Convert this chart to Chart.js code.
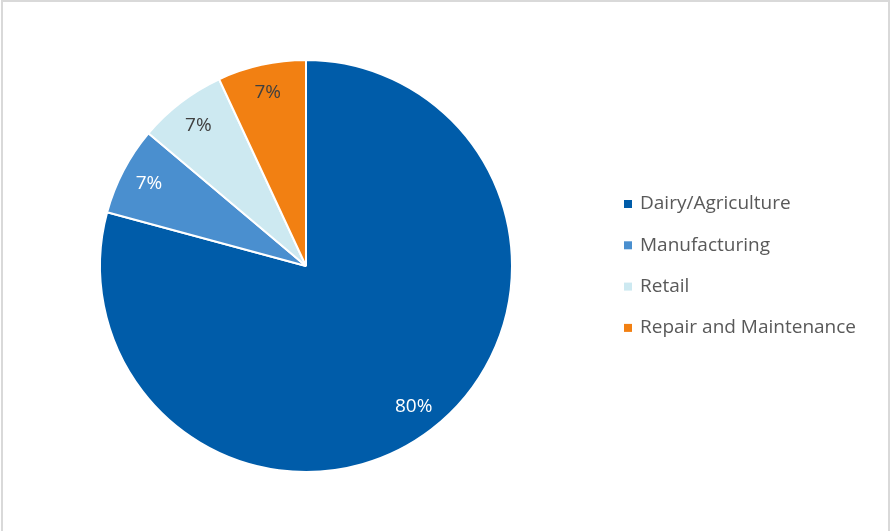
<!DOCTYPE html>
<html>
<head>
<meta charset="utf-8">
<script src="https://cdn.jsdelivr.net/npm/chart.js@4/dist/chart.umd.min.js"></script>
<style>
  html, body { margin: 0; padding: 0; background: #fff; }
  #wrap { width: 890px; height: 531px; position: relative; }
</style>
</head>
<body>
<div id="wrap"><canvas id="pie"></canvas></div>
<script>
const sectors = ["Dairy/Agriculture", "Manufacturing", "Retail", "Repair and Maintenance"];
const shares = [80, 7, 7, 7];
const sectorColors = ["#005ca9", "#4a8fcf", "#cde9f1", "#f28012"];
const labelColors = ["#ffffff", "#ffffff", "#404040", "#404040"];

const font = "'Open Sans', 'Liberation Sans', sans-serif";

// light frame round the chart
const framePlugin = {
  id: "frame",
  beforeDraw(chart) {
    const ctx = chart.ctx;
    ctx.save();
    ctx.strokeStyle = "#d9d9d9";
    ctx.lineWidth = 2;
    ctx.beginPath();
    ctx.moveTo(2, chart.height);
    ctx.lineTo(2, 1);
    ctx.lineTo(chart.width - 1, 1);
    ctx.lineTo(chart.width - 1, chart.height);
    ctx.stroke();
    ctx.restore();
  }
};

// value labels inside the slices
const sliceLabels = {
  id: "sliceLabels",
  afterDatasetsDraw(chart) {
    const ctx = chart.ctx;
    const meta = chart.getDatasetMeta(0);
    ctx.save();
    ctx.font = "19px " + font;
    ctx.textAlign = "center";
    ctx.textBaseline = "middle";
    meta.data.forEach((arc, i) => {
      const mid = (arc.startAngle + arc.endAngle) / 2;
      const r = arc.outerRadius * 0.86;
      const x = arc.x + Math.cos(mid) * r;
      const y = arc.y + Math.sin(mid) * r;
      ctx.fillStyle = labelColors[i];
      ctx.fillText(shares[i] + "%", x, y);
    });
    ctx.restore();
  }
};

// legend block on the right
const sideLegend = {
  id: "sideLegend",
  afterDraw(chart) {
    const ctx = chart.ctx;
    ctx.save();
    ctx.font = "19px " + font;
    ctx.textBaseline = "middle";
    sectors.forEach((name, i) => {
      const y = 204 + i * 41.3;
      ctx.fillStyle = sectorColors[i];
      ctx.fillRect(624, y - 4, 8, 8);
      ctx.fillStyle = "#595959";
      ctx.fillText(name, 640, y);
    });
    ctx.restore();
  }
};

new Chart(document.getElementById("pie"), {
  type: "pie",
  data: {
    labels: sectors,
    datasets: [{
      data: shares,
      backgroundColor: sectorColors,
      borderColor: "#ffffff",
      borderWidth: 2
    }]
  },
  options: {
    responsive: true,
    maintainAspectRatio: false,
    animation: false,
    layout: { padding: { top: 59, bottom: 58, left: 99, right: 377 } },
    plugins: {
      legend: { display: false },
      tooltip: { enabled: false }
    }
  },
  plugins: [framePlugin, sliceLabels, sideLegend]
});
</script>
</body>
</html>
